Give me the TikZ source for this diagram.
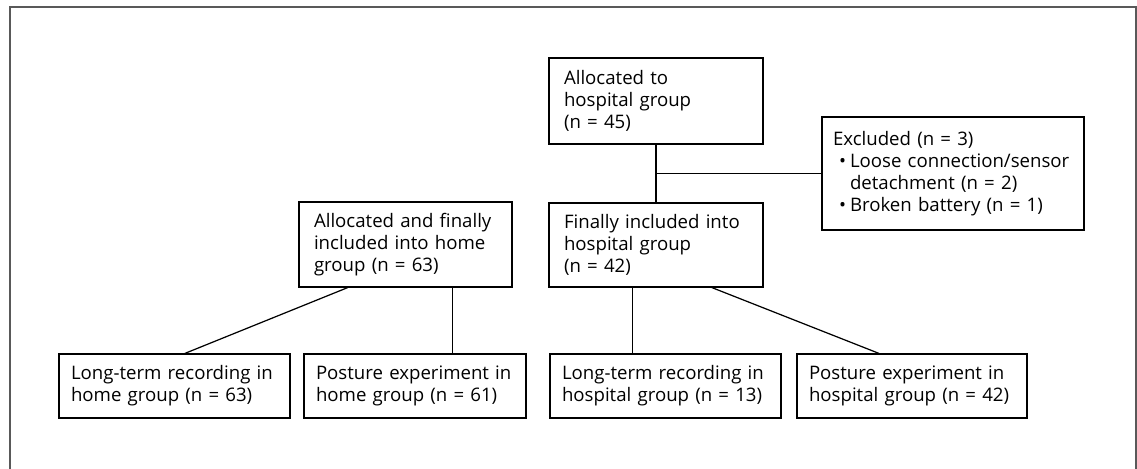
\documentclass[tikz,border=0pt]{standalone}
\usepackage{fontspec}
\setmainfont{Open Sans}
\usetikzlibrary{calc}

\newcommand{\punkt}{\hspace*{0.12cm}\makebox[0.22cm][l]{•}}
\newcommand{\einzug}{\hspace*{0.34cm}}

\tikzset{
	kasten/.style={draw, line width=0.7pt, align=left, inner xsep=0.3cm, inner ysep=0pt,
		font=\fontsize{10.6}{12.6}\selectfont},
	unten/.style={kasten, inner xsep=0.24cm, minimum height=1.28cm},
	linie/.style={line width=0.7pt},
}

\begin{document}
\begin{tikzpicture}[x=0.02cm, y=-0.02cm]
		% Bildgroesse festlegen
		\useasboundingbox (0,0) rectangle (1137,469);
		
		% Rahmen zeichnen
		\draw[gray!70!black, line width=1.2pt] (10,475) -- (10,7) -- (1136,7) -- (1136,475);
		
		% Kaesten oben
		\node[kasten, text width=3.68cm, minimum height=1.72cm] (alloc) at (656,101) {Allocated to\\hospital group\\(n = 45)};
		\node[kasten, text width=4.8cm, inner xsep=0.22cm, minimum height=2.26cm] (excl) at (953,173.5)
			{Excluded (n = 3)\\\punkt Loose connection/sensor\\\einzug detachment (n = 2)\\\punkt Broken battery (n = 1)};
		\node[kasten, text width=3.68cm, minimum height=1.68cm] (hosp) at (656,245) {Finally included into\\hospital group\\(n = 42)};
		\node[kasten, text width=3.66cm, minimum height=1.70cm] (home) at (405.5,244.5) {Allocated and finally\\included into home\\group (n = 63)};
		
		% Kaesten unten
		\node[unten, text width=4.14cm] (longhome) at (174.5,386) {Long-term recording in\\home group (n = 63)};
		\node[unten, text width=3.96cm] (posthome) at (415,386) {Posture experiment in\\home group (n = 61)};
		\node[unten, text width=4.14cm] (longhosp) at (665.5,386) {Long-term recording in\\hospital group (n = 13)};
		\node[unten, text width=4.12cm] (posthosp) at (912,386) {Posture experiment in\\hospital group (n = 42)};
		
		% Verbindungen
		\draw[linie] (alloc.south) -- (hosp.north);
		\draw[linie] (alloc.south |- excl.west) -- (excl.west);
		\draw[linie] ($(home.south west)!0.23!(home.south east)$) -- ($(longhome.north west)!0.545!(longhome.north east)$);
		\coordinate (h2) at ($(home.south west)!0.72!(home.south east)$);
		\draw[linie] (h2) -- (h2 |- posthome.north);
		\coordinate (k1) at ($(hosp.south west)!0.39!(hosp.south east)$);
		\draw[linie] (k1) -- (k1 |- longhosp.north);
		\draw[linie] ($(hosp.south west)!0.76!(hosp.south east)$) -- ($(posthosp.north west)!0.357!(posthosp.north east)$);
	\end{tikzpicture}
\end{document}
